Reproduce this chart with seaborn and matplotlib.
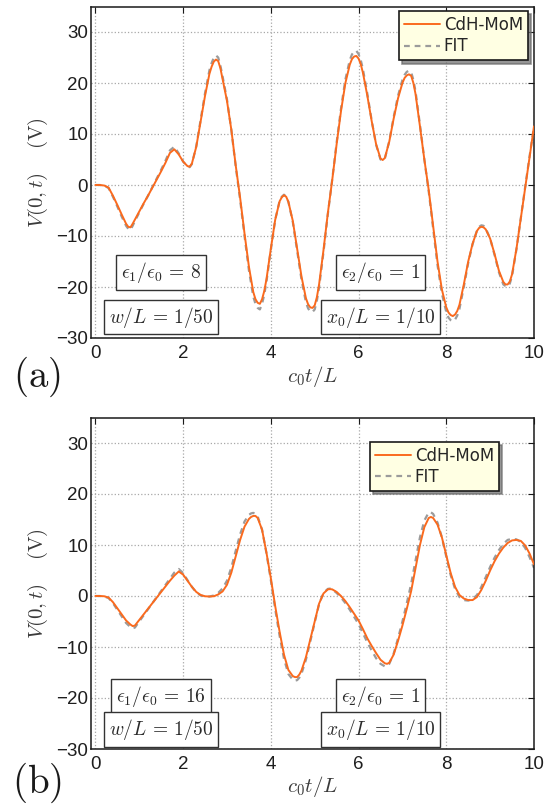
import numpy as np
import matplotlib
matplotlib.use("Agg")
import matplotlib.pyplot as plt
import seaborn as sns

# panel (a): eps1/eps0 = 8 -- normalised time c0 t / L and V(0,t) in volts
t_a = [0.0, 0.1, 0.2, 0.3, 0.4, 0.5, 0.6, 0.7, 0.75, 0.8, 0.85, 0.9,
       1.0, 1.1, 1.2, 1.3, 1.4, 1.5, 1.6, 1.7, 1.8, 1.9,
       2.0, 2.1, 2.15, 2.2, 2.3, 2.4, 2.5, 2.6, 2.65, 2.7, 2.75, 2.8, 2.85, 2.9,
       3.0, 3.1, 3.2, 3.3, 3.4, 3.5, 3.6, 3.65, 3.7, 3.75, 3.8, 3.85, 3.9,
       4.0, 4.1, 4.2, 4.25, 4.3, 4.35, 4.4, 4.5, 4.6, 4.7, 4.8, 4.85, 4.9, 4.95,
       5.0, 5.05, 5.1, 5.2, 5.3, 5.4, 5.5, 5.6, 5.7, 5.8, 5.85, 5.9, 5.95,
       6.0, 6.05, 6.1, 6.2, 6.3, 6.4, 6.5, 6.55, 6.6, 6.7, 6.8, 6.9,
       7.0, 7.05, 7.1, 7.15, 7.2, 7.25, 7.3, 7.4, 7.5, 7.6, 7.7, 7.8, 7.9,
       8.0, 8.05, 8.1, 8.15, 8.2, 8.25, 8.3, 8.4, 8.5, 8.6, 8.7, 8.75, 8.8, 8.85, 8.9,
       9.0, 9.1, 9.2, 9.3, 9.35, 9.4, 9.45, 9.5, 9.6, 9.7, 9.8, 9.9, 10.0]
mom_a = [0.0, 0.0, -0.1, -0.5, -2.1, -3.9, -5.8, -7.6, -8.2, -8.3, -7.6, -6.8,
         -5.2, -3.6, -2.1, -0.5, 1.1, 2.7, 4.4, 6.3, 7.0, 6.0,
         4.6, 3.7, 3.6, 4.2, 7.5, 12.5, 17.5, 21.8, 23.2, 24.2, 24.6, 24.3, 22.9, 20.8,
         16.5, 10.8, 3.8, -2.5, -9.5, -16.0, -21.0, -22.4, -23.1, -23.3, -22.4, -20.8, -18.5,
         -12.5, -6.8, -3.2, -2.4, -2.0, -2.3, -3.3, -7.0, -12.5, -18.0, -22.2, -23.4, -24.0, -24.1,
         -23.6, -22.0, -19.5, -12.8, -5.5, 1.0, 8.0, 14.5, 20.0, 23.6, 24.7, 25.2, 25.3,
         24.8, 23.7, 22.0, 17.5, 12.5, 8.0, 5.2, 4.9, 5.3, 8.5, 13.0, 17.0,
         20.0, 21.0, 21.5, 21.7, 21.4, 20.0, 17.8, 11.5, 5.0, -1.0, -8.0, -15.0, -20.5,
         -24.0, -25.0, -25.5, -25.7, -25.4, -24.7, -23.5, -19.5, -15.0, -11.5, -9.0, -8.4, -8.2, -8.3, -8.7,
         -10.5, -13.5, -16.8, -19.0, -19.5, -19.5, -18.9, -17.5, -12.5, -6.5, -0.5, 5.5, 11.5]
fit_a = [0.0, 0.0, -0.1, -0.6, -2.3, -4.2, -6.2, -8.0, -8.6, -8.8, -8.0, -7.1,
         -5.4, -3.7, -2.1, -0.4, 1.3, 3.0, 4.8, 6.8, 7.5, 6.2,
         4.6, 3.6, 3.5, 4.1, 7.6, 12.8, 18.0, 22.5, 23.9, 25.0, 25.4, 25.0, 23.4, 21.3,
         16.8, 10.8, 3.6, -2.9, -10.0, -16.7, -21.9, -23.3, -24.1, -24.4, -23.3, -21.5, -19.0,
         -12.7, -6.8, -3.1, -2.3, -1.9, -2.3, -3.3, -7.2, -12.9, -18.6, -23.0, -24.2, -24.8, -24.9,
         -24.4, -22.7, -20.1, -13.2, -5.7, 1.1, 8.3, 15.0, 20.7, 24.5, 25.6, 26.2, 26.3,
         25.7, 24.5, 22.7, 17.9, 12.6, 7.9, 5.0, 4.8, 5.2, 8.6, 13.3, 17.5,
         20.6, 21.6, 22.2, 22.4, 22.1, 20.6, 18.3, 11.8, 5.0, -1.3, -8.5, -15.7, -21.3,
         -24.9, -26.0, -26.5, -26.7, -26.4, -25.6, -24.3, -20.0, -15.3, -11.6, -8.9, -8.2, -7.9, -8.0, -8.5,
         -10.5, -13.7, -17.1, -19.5, -19.8, -19.9, -19.3, -17.8, -12.6, -6.4, -0.3, 5.7, 11.5]

# panel (b): eps1/eps0 = 16
t_b = [0.0, 0.1, 0.2, 0.3, 0.4, 0.5, 0.6, 0.7, 0.8, 0.85, 0.9,
       1.0, 1.1, 1.2, 1.3, 1.4, 1.5, 1.6, 1.7, 1.8, 1.9,
       2.0, 2.1, 2.2, 2.3, 2.4, 2.5, 2.6, 2.7, 2.8, 2.9,
       3.0, 3.1, 3.2, 3.3, 3.4, 3.5, 3.55, 3.6, 3.65, 3.7, 3.8, 3.9,
       4.0, 4.1, 4.2, 4.3, 4.4, 4.5, 4.55, 4.6, 4.65, 4.7, 4.8, 4.9,
       5.0, 5.1, 5.2, 5.3, 5.35, 5.4, 5.5, 5.6, 5.7, 5.8, 5.9,
       6.0, 6.1, 6.2, 6.3, 6.4, 6.5, 6.6, 6.65, 6.7, 6.8, 6.9,
       7.0, 7.1, 7.2, 7.3, 7.4, 7.5, 7.6, 7.65, 7.7, 7.8, 7.9,
       8.0, 8.1, 8.2, 8.3, 8.4, 8.5, 8.6, 8.7, 8.8, 8.9,
       9.0, 9.1, 9.2, 9.3, 9.4, 9.5, 9.6, 9.7, 9.8, 9.9, 10.0]
mom_b = [0.0, 0.0, -0.05, -0.3, -1.2, -2.4, -3.6, -4.8, -5.6, -5.9, -5.8,
         -4.7, -3.6, -2.5, -1.4, -0.3, 0.8, 1.9, 3.0, 4.0, 4.8,
         4.2, 3.0, 1.8, 0.8, 0.2, -0.05, -0.1, -0.05, 0.3, 0.9,
         2.2, 4.6, 7.8, 11.0, 13.6, 15.1, 15.5, 15.7, 15.7, 15.3, 13.0, 8.5,
         3.5, -2.0, -7.0, -11.5, -14.5, -15.7, -15.9, -15.9, -15.4, -14.6, -12.0, -8.5,
         -5.0, -1.5, 0.5, 1.3, 1.35, 1.3, 0.8, 0.0, -1.0, -2.2, -3.5,
         -4.8, -6.5, -8.3, -9.8, -11.2, -12.5, -13.2, -13.3, -13.1, -11.5, -8.8,
         -5.8, -2.5, 1.0, 5.5, 10.0, 13.5, 15.3, 15.5, 15.3, 14.0, 11.5,
         8.0, 4.5, 1.8, 0.2, -0.5, -0.8, -0.8, -0.2, 1.2, 3.0,
         5.0, 6.8, 8.3, 9.5, 10.4, 10.9, 11.0, 10.8, 9.9, 8.3, 6.2]
fit_b = [0.0, 0.0, -0.1, -0.4, -1.4, -2.7, -4.0, -5.3, -6.1, -6.3, -6.2,
         -5.0, -3.8, -2.6, -1.4, -0.2, 1.0, 2.2, 3.4, 4.6, 5.3,
         4.5, 3.1, 1.8, 0.7, 0.1, -0.1, -0.1, 0.1, 0.6, 1.5,
         3.0, 5.6, 8.9, 12.1, 14.6, 15.9, 16.2, 16.3, 16.1, 15.6, 13.0, 8.4,
         3.1, -2.6, -7.8, -12.3, -15.3, -16.4, -16.6, -16.5, -16.0, -15.2, -12.5, -8.9,
         -5.2, -1.6, 0.6, 1.4, 1.45, 1.3, 0.6, -0.3, -1.4, -2.7, -4.1,
         -5.5, -7.3, -9.1, -10.7, -12.2, -13.3, -13.8, -13.7, -13.3, -11.3, -8.3,
         -5.0, -1.4, 2.4, 7.0, 11.5, 14.8, 16.4, 16.4, 16.1, 14.4, 11.5,
         7.7, 4.1, 1.4, -0.2, -0.8, -0.9, -0.6, 0.2, 1.8, 3.7,
         5.7, 7.5, 9.0, 10.2, 11.0, 11.2, 11.1, 10.6, 9.4, 7.6, 5.5]

panel_tags = ["(a)", "(b)"]
eps1_text = [r"$\epsilon_1/\epsilon_0\,=\,8$", r"$\epsilon_1/\epsilon_0\,=\,16$"]
eps2_text = r"$\epsilon_2/\epsilon_0\,=\,1$"
w_text = r"$w/L\,=\,1/50$"
x0_text = r"$x_0/L\,=\,1/10$"
series_names = ["CdH-MoM", "FIT"]
xticks = [0, 2, 4, 6, 8, 10]
yticks = [-30, -20, -10, 0, 10, 20, 30]

sns.set_style("white")
plt.rcParams["font.family"] = ["Liberation Sans", "DejaVu Sans"]
plt.rcParams["mathtext.fontset"] = "cm"
plt.rcParams["axes.unicode_minus"] = True

W, H = 559, 806
fig = plt.figure(figsize=(W / 100, H / 100), dpi=100)
fig.patch.set_facecolor("white")

ax_w = 443 / W
ax_h = 331.5 / H
axes = [fig.add_axes([91 / W, (H - 338) / H, ax_w, ax_h]),
        fig.add_axes([91 / W, (H - 749) / H, ax_w, ax_h])]

mom_color = "#fa6a1e"
fit_color = "#9b9b9b"
label_color = "#3a3a3a"

panels = [
    dict(t=t_a, mom=mom_a, fit=fit_a, box_y=(-17.2, -25.9), leg=(0.9865, 0.9864),
         tag_y=377, xlab=-0.117),
    dict(t=t_b, mom=mom_b, fit=fit_b, box_y=(-19.7, -26.2), leg=(0.921, 0.9276),
         tag_y=783, xlab=-0.114),
]

for i, (ax, p) in enumerate(zip(axes, panels)):
    sns.lineplot(x=p["t"], y=p["fit"], ax=ax, color=fit_color, lw=1.6,
                 linestyle="--", zorder=2, sort=False)
    fit_line = ax.lines[-1]
    fit_line.set_dashes((2.6, 2.2))
    sns.lineplot(x=p["t"], y=p["mom"], ax=ax, color=mom_color, lw=1.4,
                 zorder=3, sort=False)
    mom_line = ax.lines[-1]

    ax.set_xlim(-0.1, 10)
    ax.set_ylim(-30, 35)
    ax.set_xticks(xticks)
    ax.set_yticks(yticks)
    ax.set_axisbelow(True)
    ax.grid(True, linestyle=":", color="#a8a8a8", linewidth=0.9)
    for s in ax.spines.values():
        s.set_visible(True)
        s.set_color("#1a1a1a")
        s.set_linewidth(1.1)
    ax.tick_params(direction="in", length=4, width=0.8, top=True, right=True,
                   labelsize=13.5, labelcolor="#1e1e1e", color="#1a1a1a")
    ax.tick_params(axis="x", pad=5)
    ax.tick_params(axis="y", pad=2)

    ax.set_xlabel(r"$c_0t/L$", fontsize=15, color=label_color, va="center")
    ax.xaxis.set_label_coords(0.5, p["xlab"])
    ax.set_ylabel(r"$V(0,t)\quad\;(\mathrm{V})$", fontsize=15,
                  color=label_color, va="center")
    ax.yaxis.set_label_coords(-0.1205, 0.5)

    box = dict(boxstyle="square,pad=0.25", facecolor="white",
               edgecolor="#333333", linewidth=1.0)
    ax.text(1.5, p["box_y"][0], eps1_text[i], fontsize=14, ha="center",
            va="center", color="#2a2a2a", bbox=box, zorder=5)
    ax.text(1.5, p["box_y"][1], w_text, fontsize=14, ha="center",
            va="center", color="#2a2a2a", bbox=box, zorder=5)
    ax.text(6.5, p["box_y"][0], eps2_text, fontsize=14, ha="center",
            va="center", color="#2a2a2a", bbox=box, zorder=5)
    ax.text(6.5, p["box_y"][1], x0_text, fontsize=14, ha="center",
            va="center", color="#2a2a2a", bbox=box, zorder=5)

    leg = ax.legend(handles=[mom_line, fit_line], labels=series_names,
                    loc="upper right", bbox_to_anchor=p["leg"],
                    borderaxespad=0, prop={"family": "DejaVu Sans", "size": 12},
                    frameon=True, fancybox=False, framealpha=1,
                    shadow={"ox": 2.5, "oy": -2.5, "color": "#6a6a6a", "alpha": 0.7},
                    borderpad=0.3, handlelength=2.2, handletextpad=0.2,
                    labelspacing=0.2)
    leg.get_frame().set_facecolor("#ffffe3")
    leg.get_frame().set_edgecolor("#1a1a1a")
    leg.get_frame().set_linewidth(1.2)
    leg.set_zorder(6)

    fig.text(37 / W, 1 - p["tag_y"] / H, r"$\mathrm{" + panel_tags[i] + "}$",
             fontsize=28, ha="center", va="center", color="#1a1a1a")

fig.savefig("out.png", dpi=100, facecolor="white")
